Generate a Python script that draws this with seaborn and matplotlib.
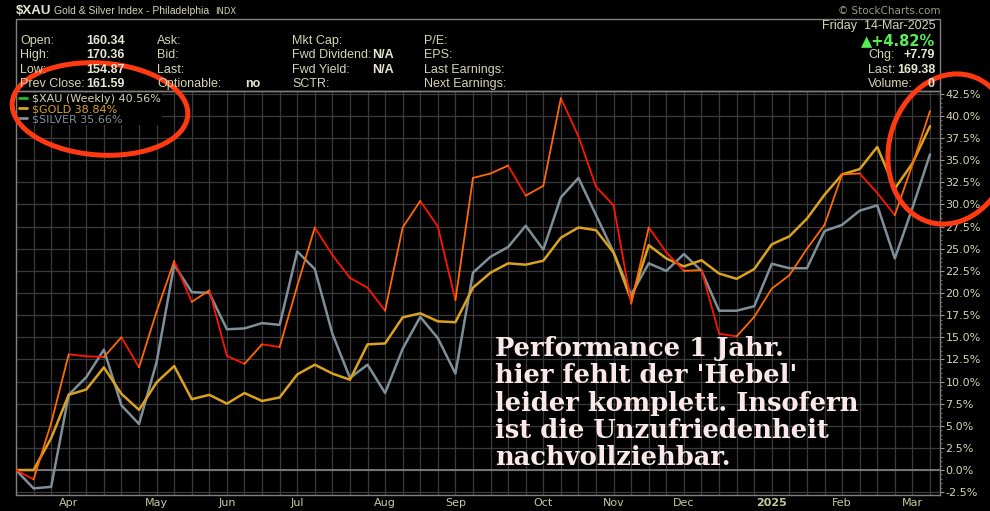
import numpy as np
import pandas as pd
import matplotlib
matplotlib.use('Agg')
import matplotlib.pyplot as plt
from matplotlib.lines import Line2D
from matplotlib.patches import Ellipse, Rectangle
from matplotlib.transforms import IdentityTransform
import seaborn as sns

# weekly bars, labelled by the Monday of each week
weeks = pd.date_range('2024-03-11', periods=53, freq='W-MON')

xau = [0, -1.05, 5.3, 13.07, 12.85, 12.77, 15.0, 11.6, 17.9, 23.6, 19.0, 20.3, 12.9,
       12.0, 14.2, 13.9, 20.8, 27.4, 24.3, 21.7, 20.6, 18.0, 27.4, 30.4, 27.5, 19.2,
       33.0, 33.5, 34.4, 31.0, 32.1, 42.0, 37.7, 32.0, 29.9, 18.8, 27.4, 24.6, 22.5,
       22.6, 15.4, 15.1, 17.3, 20.5, 22.0, 25.0, 27.7, 33.4, 33.5, 31.3, 28.8, 34.5, 40.56]
gold = [0, 0, 3.6, 8.5, 9.1, 11.6, 8.6, 6.8, 9.9, 11.75, 8.0, 8.5, 7.5,
        8.7, 7.8, 8.2, 10.8, 11.9, 10.9, 10.2, 14.2, 14.3, 17.25, 17.7, 16.8, 16.7,
        20.6, 22.3, 23.35, 23.2, 23.65, 26.25, 27.4, 27.1, 24.55, 19.2, 25.4, 23.9, 23.0,
        23.7, 22.2, 21.6, 22.7, 25.5, 26.4, 28.4, 31.1, 33.4, 34.0, 36.5, 31.8, 34.65, 38.84]
silver = [0, -2.07, -1.9, 8.5, 10.5, 13.6, 7.3, 5.2, 12.2, 23.2, 20.1, 20.0, 15.9,
          16.0, 16.6, 16.4, 24.7, 22.7, 15.4, 10.4, 11.9, 8.7, 13.7, 17.3, 14.9, 10.9,
          22.3, 24.1, 25.2, 27.6, 24.9, 30.8, 33.0, 28.8, 24.6, 19.8, 23.35, 22.5, 24.4,
          22.5, 18.0, 18.0, 18.5, 23.3, 22.8, 22.8, 27.0, 27.7, 29.3, 29.9, 23.9, 29.6, 35.66]

month_labels = ['Apr', 'May', 'Jun', 'Jul', 'Aug', 'Sep', 'Oct', 'Nov', 'Dec', '2025', 'Feb', 'Mar']
legend_labels = ['$XAU (Weekly) 40.56%', '$GOLD 38.84%', '$SILVER 35.66%']

note_lines = ['Performance 1 Jahr.', "hier fehlt der 'Hebel'", 'leider komplett. Insofern',
              'ist die Unzufriedenheit', 'nachvollziehbar.']

C_UP, C_DOWN = '#ff6a00', '#ff1500'
C_GOLD, C_SILVER = '#dba21c', '#7f8f98'
C_LBL, C_VAL = '#d4d4b4', '#e6e6d2'

W, H = 990, 511
fx = lambda x: x / W
fy = lambda y: 1 - y / H

sns.set_style('dark')
plt.rcParams['font.family'] = ['DejaVu Sans']

fig = plt.figure(figsize=(9.9, 5.11), dpi=100, facecolor='black')
ax = fig.add_axes([fx(16), fy(495), fx(940) - fx(16), fy(91) - fy(495)])
ax.set_facecolor('black')

df = pd.DataFrame({'date': weeks, 'xau': xau, 'gold': gold, 'silver': silver})

# $XAU segments coloured by direction
rows = []
for i in range(len(xau) - 1):
    d = 'up' if xau[i + 1] >= xau[i] else 'down'
    rows.append((weeks[i], xau[i], i, d))
    rows.append((weeks[i + 1], xau[i + 1], i, d))
seg = pd.DataFrame(rows, columns=['date', 'pct', 'seg', 'dir'])

ax.axhline(0, color='#8c8c8c', lw=1.1, zorder=1)
sns.lineplot(data=df, x='date', y='silver', color=C_SILVER, lw=1.8, ax=ax, zorder=3)
sns.lineplot(data=df, x='date', y='gold', color=C_GOLD, lw=1.8, ax=ax, zorder=4)
sns.lineplot(data=seg, x='date', y='pct', hue='dir', units='seg', estimator=None,
             palette={'up': C_UP, 'down': C_DOWN}, lw=1.3, legend=False, ax=ax, zorder=5)

start = weeks[0]
ax.set_xlim(start, start + pd.Timedelta(days=7 * 52.57))
ax.set_ylim(-2.82, 42.82)

# month ticks at the first week of each month
first_weeks = [weeks[i] for i in range(1, len(weeks)) if weeks[i].month != weeks[i - 1].month]
ax.set_xticks(first_weeks)
ax.set_xticklabels(month_labels)
ax.set_xticks(weeks, minor=True)
for lab in ax.get_xticklabels():
    if lab.get_text() == '2025':
        lab.set_fontweight('bold')

yt = np.arange(-2.5, 42.6, 2.5)
ax.yaxis.tick_right()
ax.set_yticks(yt)
ax.set_yticklabels([f'{v:.1f}%' for v in yt])
ax.set_yticks(np.arange(-2.5, 42.6, 0.5), minor=True)

ax.tick_params(axis='x', which='major', colors='#777777', labelcolor='#c8c8a0', labelsize=8,
               length=2, pad=0.5)
ax.tick_params(axis='x', which='minor', colors='#777777', length=2)
ax.tick_params(axis='y', which='major', colors='#999999', labelcolor='#d4d4b0', labelsize=8,
               length=3, pad=1, right=True, left=False)
ax.tick_params(axis='y', which='minor', colors='#777777', length=1.5, right=True, left=False)

ax.grid(True, which='major', axis='y', color='#3a3a3a', lw=0.9)
ax.grid(True, which='both', axis='x', color='#3a3a3a', lw=0.9)
ax.set_axisbelow(True)
for s in ax.spines.values():
    s.set_color('#808080')
    s.set_linewidth(1)
ax.set_xlabel('')
ax.set_ylabel('')

handles = [Line2D([], [], color=c, lw=2) for c in ['#22bb22', C_GOLD, C_SILVER]]
leg = ax.legend(handles, legend_labels, loc='upper left', fontsize=8, frameon=True,
                facecolor='black', edgecolor='none', framealpha=1, handlelength=0.7,
                handletextpad=0.4, labelspacing=0.0, borderpad=0.1, borderaxespad=0.2,
                labelcolor=[C_LBL, C_GOLD, C_SILVER])

sans = ['Liberation Sans', 'DejaVu Sans']

# header block
fig.text(fx(16), fy(11), '$XAU', color=C_VAL, fontsize=9.5, fontweight='bold', va='center',
         family=sans)
fig.text(fx(54), fy(11), 'Gold & Silver Index - Philadelphia', color=C_LBL, fontsize=7.5,
         va='center', family=sans)
fig.text(fx(215), fy(11), 'INDX', color=C_LBL, fontsize=6, va='center')
fig.text(fx(940), fy(11), '© StockCharts.com', color='#9a9a84', fontsize=7.5, va='center', ha='right')
fig.add_artist(Rectangle((fx(16), fy(91)), fx(940) - fx(16), fy(19) - fy(91),
                         transform=fig.transFigure, fill=False, ec='#808080', lw=1))

row_y = [41, 55, 70, 84]
cols = [
    (20, ['Open:', 'High:', 'Low:', 'Prev Close:'], False),
    (86, ['160.34', '170.36', '154.87', '161.59'], True),
    (157, ['Ask:', 'Bid:', 'Last:', 'Optionable:'], False),
    (245, ['', '', '', 'no'], True),
    (292, ['Mkt Cap:', 'Fwd Dividend:', 'Fwd Yield:', 'SCTR:'], False),
    (372, ['', 'N/A', 'N/A', ''], True),
    (424, ['P/E:', 'EPS:', 'Last Earnings:', 'Next Earnings:'], False),
]
for x, texts, bold in cols:
    for y, t in zip(row_y, texts):
        if t:
            fig.text(fx(x), fy(y), t, color=C_VAL if bold else C_LBL, fontsize=9,
                     fontweight='bold' if bold else 'normal', va='center', family=sans)

fig.text(fx(935), fy(26), 'Friday  14-Mar-2025', color=C_LBL, fontsize=9, va='center',
         ha='right', family=sans)
fig.text(fx(935), fy(41), '▲+4.82%', color='#55ee55', fontsize=10.5, fontweight='bold',
         va='center', ha='right', family=['DejaVu Sans'])
for y, lab, val in zip(row_y[1:], ['Chg:', 'Last:', 'Volume:'], ['+7.79', '169.38', '0']):
    fig.text(fx(868), fy(y), lab, color=C_LBL, fontsize=9, va='center', family=sans)
    fig.text(fx(935), fy(y), val, color=C_VAL, fontsize=9, fontweight='bold', va='center',
             ha='right', family=sans)

# hand-written note
for k, line in enumerate(note_lines):
    fig.text(fx(495), fy(356 + 27.3 * k), line, color='#fbe9e9', fontsize=18.5,
             fontweight='bold', family=['DejaVu Serif'], va='baseline', ha='left')

# red marker circles
fig.add_artist(Ellipse((100, H - 109), 176, 92, angle=-4, fill=False, ec='#ff3a12', lw=3.6,
                       transform=IdentityTransform(), clip_on=False))
fig.add_artist(Ellipse((950, H - 149), 122, 152, angle=-15, fill=False, ec='#ff3a12', lw=3.6,
                       transform=IdentityTransform(), clip_on=False))

fig.savefig('out.png', dpi=100, facecolor='black')
